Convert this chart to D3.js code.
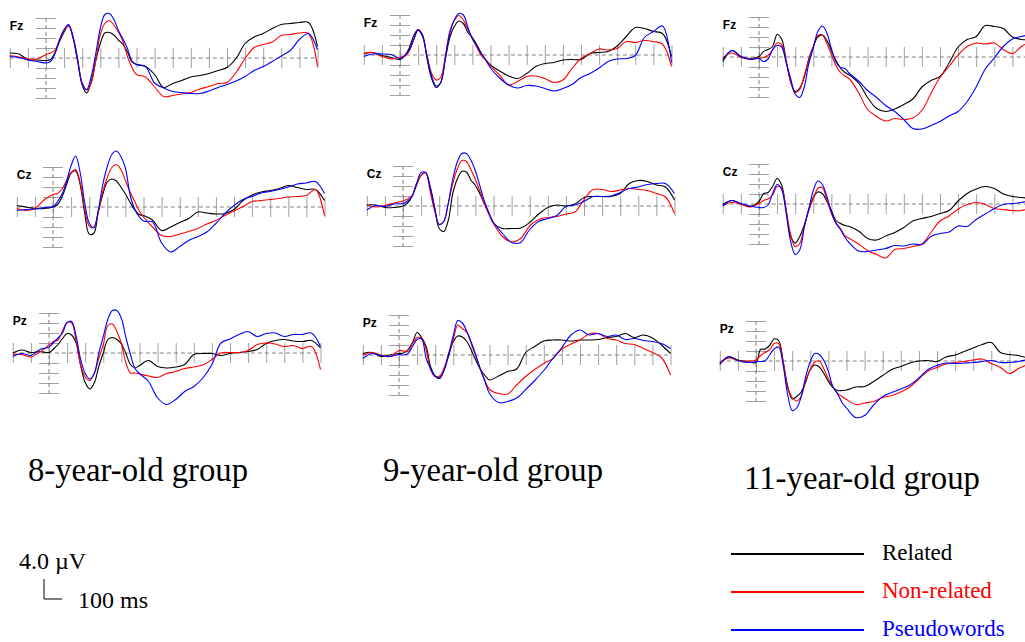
<!DOCTYPE html>
<html>
<head>
<meta charset="utf-8">
<script src="https://cdn.jsdelivr.net/npm/d3@7"></script>
<style>
    body { margin: 0; background: #fff; }
    svg { display: block; }
</style>
</head>
<body>
<svg id="chart" width="1025" height="642"></svg>
<script>
// sample times (ms) shared by every waveform
const times = [-200, -150, -100, -50, 0, 25, 50, 75, 100, 125, 150, 175, 200, 225, 250, 275, 300, 325, 350, 375, 400, 425, 450, 475, 500,
    550, 600, 650, 700, 750, 800, 850, 900, 950, 1000, 1050, 1100, 1150, 1200, 1250, 1300, 1350, 1400, 1450, 1500]

const groups = ["8-year-old group", "9-year-old group", "11-year-old group"]
const sites = ["Fz", "Cz", "Pz"]
const conditions = ["Related", "Non-related", "Pseudowords"]
const colours = ["#000000", "#ff0000", "#0000ff"]

// amplitudes in µV, one value per entry of `times`
const fz8Related = [1.0, 0.8, -0.3, -0.4, -0.5, -0.3, 1.1, 3.3, 5.2, 6.5, 4.1, -0.2, -5.4, -7.0, -4.7, -0.5, 2.9, 5.0, 5.1, 4.6, 3.6, 2.7, 1.2, -0.8, -1.3, -1.7, -3.3, -5.9, -5.1, -4.5, -3.8, -3.5, -3.1, -2.5, -1.9, -0.1, 2.9, 4.2, 4.9, 5.9, 6.7, 6.9, 7.1, 7.1, 2.3]
const fz8NonRelated = [0.5, 0.2, -0.2, -0.2, 0.7, 1.0, 1.6, 3.6, 5.5, 6.4, 3.9, -0.7, -5.0, -6.4, -5.0, -0.5, 4.7, 6.9, 7.5, 6.6, 5.2, 3.3, 0.3, -1.9, -3.3, -3.8, -5.8, -7.7, -7.5, -7.2, -6.9, -6.2, -5.7, -5.1, -4.9, -2.9, -0.1, 2.1, 2.7, 3.2, 4.5, 4.7, 5.0, 4.9, -1.7]
const fz8Pseudo = [0.3, 0.1, -0.4, -0.7, -1.0, -0.7, 0.9, 3.7, 5.7, 6.7, 4.1, -0.7, -5.2, -6.3, -3.7, 0.9, 5.9, 8.7, 8.9, 7.7, 5.5, 3.8, 1.9, -0.6, -1.3, -1.7, -5.0, -6.0, -6.7, -6.9, -7.1, -7.1, -6.6, -5.9, -5.3, -4.6, -3.7, -2.5, -1.7, -0.7, 0.4, 1.5, 3.7, 4.9, 1.7]

const cz8Related = [0.3, 0, -0.3, -0.3, 0, 0.5, 2.0, 4.5, 6.8, 7.2, 4.5, -1.2, -5.4, -5.3, -1.0, 2.5, 5.0, 5.6, 5.2, 4.0, 2.6, 1.0, -0.5, -1.5, -1.7, -2.6, -4.7, -4.0, -3.1, -2.3, -1.0, -1.2, -1.4, -1.3, -0.5, 1.3, 2.4, 3.0, 3.3, 3.7, 4.3, 3.9, 3.5, 3.5, 1.3]
const cz8NonRelated = [-0.3, -0.7, -0.3, 1.4, 2.5, 2.7, 3.6, 5.3, 6.9, 7.5, 4.9, -0.3, -3.8, -4.0, -1.1, 3.1, 5.9, 7.9, 8.5, 7.5, 5.3, 3.1, 1.2, -0.7, -2.0, -4.0, -5.7, -5.9, -5.4, -4.9, -4.3, -3.4, -2.7, -1.7, -0.8, 0.1, 1.1, 1.3, 1.5, 1.7, 2.0, 2.1, 2.3, 3.5, -1.7]
const cz8Pseudo = [-0.7, -0.5, -0.4, -0.1, 0.1, 1.1, 2.6, 5.1, 8.3, 10.2, 6.9, 0.9, -3.2, -4.2, -0.7, 4.5, 8.1, 10.5, 11.2, 10.1, 7.8, 2.6, -0.3, -1.9, -2.8, -3.0, -7.2, -9.0, -7.9, -6.7, -5.9, -5.0, -3.3, -1.3, 0.3, 1.5, 2.1, 2.8, 3.1, 3.5, 4.0, 4.6, 4.8, 5.1, 2.7]

const pz8Related = [0, 0.6, 0.1, 0.3, 0.1, 0.8, 1.7, 2.9, 3.9, 3.6, 2.0, -2.5, -5.9, -7.2, -6.0, -2.7, 0, 2.7, 3.1, 2.7, 1.8, -0.1, -2.3, -3.0, -2.5, -1.5, -2.7, -3.0, -2.8, -2.3, -0.3, -0.1, -0.1, -0.5, -0.1, 0.1, 0.3, 0.7, 1.9, 2.5, 2.7, 2.4, 2.3, 2.5, 1.0]
const pz8NonRelated = [-0.3, -0.3, -0.8, 0.2, 1.6, 2.3, 2.6, 4.5, 6.1, 6.0, 2.4, -2.5, -4.8, -5.5, -4.1, -1.1, 1.7, 5.5, 5.8, 4.3, 1.9, -2.0, -4.0, -4.0, -4.2, -4.6, -4.9, -4.1, -3.7, -3.1, -2.8, -2.4, -1.3, 0, 0.1, 0.1, 0.5, 1.7, 2.0, 1.8, 1.3, 1.5, 0.9, 1.3, -3.3]
const pz8Pseudo = [-0.7, -0.1, -0.5, 0.7, 1.2, 2.1, 3.0, 4.0, 6.1, 6.3, 3.3, -1.3, -4.1, -5.2, -4.1, 0, 3.3, 6.7, 8.5, 8.5, 6.9, 3.1, -0.3, -3.1, -4.1, -5.7, -9.0, -10.3, -9.3, -7.7, -6.7, -5.0, -2.3, 2.0, 2.8, 3.7, 4.3, 3.3, 3.9, 4.0, 3.3, 3.7, 3.7, 4.0, 1.3]

const fz9Related = [0.3, 0.5, -0.1, -0.5, -0.9, -0.2, 1.3, 3.8, 5.1, 4.0, -0.9, -4.7, -6.5, -5.5, -1.0, 3.5, 5.7, 6.8, 6.3, 4.5, 3.5, 2.0, 0.3, -1.0, -2.0, -3.2, -4.2, -4.7, -3.7, -2.3, -1.7, -1.5, -1.0, -0.9, -0.9, 0.3, 0.5, 0.7, 1.8, 3.7, 5.5, 5.3, 4.7, 4.3, -0.3]
const fz9NonRelated = [0.3, 0.5, -0.3, -0.8, -0.4, -0.3, 0.7, 2.9, 5.0, 3.7, -0.2, -3.7, -5.0, -4.5, -0.3, 4.7, 6.9, 7.9, 7.0, 5.1, 3.3, 1.5, -0.2, -1.0, -2.2, -4.0, -6.0, -5.3, -4.3, -4.2, -4.7, -5.5, -5.0, -2.7, -0.7, 0.3, 1.2, 1.0, 1.3, 2.7, 2.5, 2.9, 2.7, 2.2, -2.3]
const fz9Pseudo = [-0.3, 0.2, 0.2, 0.1, -0.7, -0.1, 0.9, 3.1, 4.9, 3.7, -0.5, -4.3, -6.2, -5.5, -0.7, 4.3, 7.0, 8.3, 8.0, 5.5, 3.2, 1.8, 0.2, -1.1, -2.6, -4.6, -6.0, -6.6, -6.1, -6.2, -6.7, -7.2, -6.7, -5.9, -4.5, -3.7, -2.6, -1.3, -0.8, -0.7, -0.1, 3.5, 4.7, 5.8, -1.5]

const cz9Related = [0.2, 0.2, -0.3, -0.3, 0, 0.6, 1.9, 4.5, 6.1, 6.7, 3.9, -0.3, -4.5, -5.1, -2.9, 2.5, 5.4, 6.9, 6.8, 5.2, 4.1, 2.4, 0.4, -1.5, -3.5, -4.5, -4.5, -4.4, -3.3, -1.6, -0.3, 0.2, 0, 0.4, 1.7, 1.9, 1.9, 1.9, 2.5, 4.5, 5.1, 4.9, 4.2, 3.8, 1.2]
const cz9NonRelated = [0.2, -0.2, 0.1, 0.6, 1.0, 1.4, 2.1, 4.1, 6.1, 6.7, 2.9, -1.0, -3.7, -3.1, 0.5, 4.5, 7.4, 9.1, 8.9, 7.3, 5.3, 2.9, 0.4, -1.7, -3.5, -6.1, -7.2, -6.5, -4.0, -2.7, -2.3, -2.1, -1.6, -1.2, 1.3, 3.3, 3.3, 2.9, 3.2, 3.5, 3.3, 3.1, 2.5, 1.8, -1.5]
const cz9Pseudo = [-0.8, 0.1, -0.1, 0.4, 0.5, 1.0, 1.9, 4.4, 6.7, 6.7, 3.7, -0.5, -3.7, -3.1, 0.5, 5.4, 8.8, 10.5, 10.5, 9.2, 7.0, 4.0, 0.9, -1.4, -3.3, -5.5, -7.3, -7.3, -4.7, -3.1, -2.5, -1.9, -0.1, 0.2, 0.9, 1.9, 1.9, 2.0, 2.7, 3.5, 3.8, 4.3, 4.5, 4.5, 2.5]

const pz9Related = [0.3, 0.5, -0.3, 0, 0.3, 0.4, 1.1, 2.5, 4.5, 3.5, 1.7, -2.4, -4.2, -4.7, -2.8, -0.1, 2.7, 3.8, 3.6, 2.7, 0.9, -1.1, -2.9, -4.1, -5.0, -4.2, -3.3, -2.8, 0.5, 1.7, 2.8, 3.0, 3.0, 2.8, 3.0, 3.0, 3.1, 3.5, 3.7, 4.3, 3.5, 4.0, 3.4, 2.0, 0.3]
const pz9NonRelated = [0, 0.5, 0, -0.3, 0.9, 0.8, 0.7, 2.3, 3.5, 3.3, 1.0, -3.0, -4.3, -4.2, -2.5, 0.3, 3.2, 6.0, 5.3, 4.5, 2.2, -0.3, -2.8, -5.1, -6.9, -7.7, -7.8, -6.0, -4.3, -2.9, -1.7, -0.7, 1.2, 2.2, 3.0, 4.2, 4.3, 3.3, 3.0, 2.3, 2.1, 1.3, 0.5, -0.5, -4.0]
const pz9Pseudo = [-0.7, 0.3, -0.1, -0.3, 0.1, 0, 0.3, 1.7, 3.1, 3.2, -0.7, -2.7, -4.3, -4.5, -3.0, 0.3, 3.9, 6.9, 6.4, 4.7, 2.5, -0.1, -2.9, -5.3, -7.7, -9.5, -9.3, -8.6, -6.9, -5.1, -3.1, -0.7, 1.5, 4.0, 5.0, 4.0, 4.3, 3.7, 4.0, 3.1, 3.3, 2.9, 2.7, 2.3, 1.3]

const fz11Related = [-0.9, 1.3, 0.1, -0.3, 0.1, 1.1, 1.5, 2.1, 4.5, 3.6, -0.7, -5.0, -6.9, -6.2, -4.0, -0.4, 2.1, 4.0, 4.4, 3.3, 1.3, -0.7, -2.2, -3.1, -3.6, -5.2, -8.1, -10.3, -10.9, -10.4, -9.5, -8.4, -6.0, -4.7, -3.9, -1.2, 2.0, 3.5, 4.1, 6.3, 6.1, 5.7, 4.0, 3.5, 3.5]
const fz11NonRelated = [-0.2, 0.8, -0.1, -0.4, -0.2, -0.1, 0.3, 1.4, 2.8, 2.5, -0.9, -5.0, -7.1, -6.5, -3.7, -0.6, 2.1, 4.3, 4.4, 2.7, 0.5, -1.7, -3.1, -3.8, -4.4, -7.1, -10.5, -11.9, -12.8, -12.3, -12.5, -12.2, -10.7, -7.3, -4.1, -1.9, 0.4, 2.1, 2.8, 2.6, 2.8, 1.5, 0.7, 2.1, 3.1]
const fz11Pseudo = [-0.5, 1.3, 0.1, -0.5, -0.3, -0.9, -0.4, 1.5, 2.3, 2.0, -1.1, -4.3, -7.4, -8.1, -6.0, -1.3, 1.8, 5.1, 6.2, 4.8, 1.6, -1.0, -2.1, -2.3, -3.3, -4.8, -6.7, -8.1, -9.7, -10.9, -12.5, -14.3, -14.4, -13.7, -12.9, -11.8, -10.9, -8.9, -6.0, -2.4, -0.2, 2.1, 3.6, 4.1, 4.5]

const cz11Related = [-0.1, 0.7, 0, -0.5, 0.5, 2.1, 2.3, 3.5, 5.1, 3.8, -1.2, -6.5, -7.8, -6.5, -4.2, -1.1, 1.3, 2.4, 2.1, 0.5, -1.3, -3.3, -3.9, -4.3, -4.5, -5.4, -6.9, -7.2, -6.4, -5.7, -4.7, -3.4, -2.9, -2.5, -1.9, -1.3, 0.6, 2.1, 3.0, 3.5, 3.1, 2.0, 1.5, 1.3, 1.1]
const cz11NonRelated = [-0.3, 0.3, 0, -0.6, 0.1, 0.7, 1.0, 1.8, 3.5, 3.2, -1.2, -6.1, -8.5, -7.9, -4.5, -1.3, 1.1, 3.1, 3.3, 0.8, -1.9, -3.7, -4.9, -6.4, -6.9, -8.0, -9.3, -10.1, -10.8, -9.1, -8.9, -8.5, -8.0, -5.7, -3.4, -2.4, -1.0, -0.1, 0.3, -0.1, -0.9, -1.1, -1.3, -1.3, -0.7]
const cz11Pseudo = [-0.4, 0.7, 0.1, -0.4, -0.7, -0.7, -0.2, 2.1, 3.9, 2.9, -1.9, -7.5, -10.1, -9.2, -4.7, -1.0, 2.7, 4.6, 3.9, 1.5, -1.6, -3.9, -5.1, -6.7, -7.8, -9.4, -9.5, -9.2, -8.9, -8.3, -8.4, -8.0, -8.1, -6.5, -5.9, -5.6, -4.4, -4.5, -3.1, -2.0, -0.9, -0.1, 0.1, 0.3, 0.8]

const pz11Related = [-0.7, 0.8, 0.2, -0.1, -0.3, 2.3, 2.4, 3.1, 4.4, 4.1, -0.1, -5.0, -7.6, -7.1, -6.2, -4.2, -1.7, -0.8, -1.2, -2.5, -4.1, -5.3, -5.9, -5.9, -5.8, -5.2, -5.1, -4.1, -2.9, -1.7, -1.1, -0.4, 0, 0.1, -0.1, 0.8, 1.2, 1.9, 2.6, 3.3, 3.7, 1.7, 1.3, 1.1, 0.6]
const pz11NonRelated = [-0.4, 0.6, 0.1, 0, 0.2, 1.1, 1.7, 2.2, 3.5, 3.5, -0.1, -5.4, -7.3, -8.0, -7.0, -3.9, -1.7, -0.2, 0, -1.6, -3.6, -5.1, -6.5, -7.1, -7.7, -8.7, -8.4, -8.1, -7.3, -6.9, -6.2, -5.2, -3.6, -2.0, -1.3, -0.6, -0.3, -0.1, 0.2, 0.4, -0.5, -1.3, -2.5, -1.5, -0.7]
const pz11Pseudo = [-0.5, 0.9, 0.1, -0.3, -0.1, -0.1, 0, 1.2, 2.4, 2.8, -0.9, -6.7, -9.9, -9.4, -7.1, -3.1, -0.1, 1.5, 1.3, 0.1, -2.1, -5.2, -6.5, -8.3, -9.4, -11.3, -10.9, -8.8, -7.1, -6.3, -5.6, -4.8, -3.4, -1.7, -0.9, -0.4, -0.5, -0.4, -0.3, -0.1, 0.1, -0.3, -0.3, -0.1, 0.3]

const waves = [
    [[fz8Related, fz8NonRelated, fz8Pseudo], [cz8Related, cz8NonRelated, cz8Pseudo], [pz8Related, pz8NonRelated, pz8Pseudo]],
    [[fz9Related, fz9NonRelated, fz9Pseudo], [cz9Related, cz9NonRelated, cz9Pseudo], [pz9Related, pz9NonRelated, pz9Pseudo]],
    [[fz11Related, fz11NonRelated, fz11Pseudo], [cz11Related, cz11NonRelated, cz11Pseudo], [pz11Related, pz11NonRelated, pz11Pseudo]],
]

// where time 0 / 0 µV sits for each panel [group][site]
const origins = [
    [[46, 58], [53, 207], [49, 353]],
    [[400, 55], [403, 206], [399, 355]],
    [[759, 57], [759, 204], [756, 361]],
]
const msPx = 0.181
const uvPx = 5

const svg = d3.select("#chart")
const serif = "'Liberation Serif', 'Times New Roman', serif"
const sans = "'Liberation Sans', Arial, sans-serif"

function renderPanel(g, gi, si) {
    const [ox, oy] = origins[gi][si]
    const x = d3.scaleLinear().domain([-200, 1500]).range([ox - 200 * msPx, ox + 1500 * msPx])
    const y = d3.scaleLinear().domain([-8, 8]).range([oy + 8 * uvPx, oy - 8 * uvPx])

    const tickAxis = g.append("g")
        .attr("transform", `translate(0, ${y(0) - 10})`)
        .call(d3.axisBottom(x).tickValues(d3.range(-200, 1501, 100)).tickSize(20).tickFormat(""))
    const ampAxis = g.append("g")
        .attr("transform", `translate(${x(0) + 10}, 0)`)
        .call(d3.axisLeft(y).tickValues([-8, -6, -4, -2, 2, 4, 6, 8]).tickSize(20).tickFormat(""))
    for (const a of [tickAxis, ampAxis]) {
        a.select(".domain").remove()
        a.selectAll("line").attr("stroke", "#a0a0a0").attr("stroke-width", 1)
    }

    g.append("line")
        .attr("x1", x(-200)).attr("x2", x(1500))
        .attr("y1", y(0)).attr("y2", y(0))
        .attr("stroke", "#808080").attr("stroke-dasharray", "4,3")
    g.append("line")
        .attr("x1", x(0)).attr("x2", x(0))
        .attr("y1", y(8)).attr("y2", y(-8))
        .attr("stroke", "#808080").attr("stroke-dasharray", "4,3")

    g.append("text")
        .attr("x", x(-200)).attr("y", y(0) - 28)
        .attr("font-family", sans).attr("font-weight", "bold").attr("font-size", 12)
        .text(sites[si])

    const line = d3.line()
        .x((d, i) => x(times[i]))
        .y((d) => y(d))
        .curve(d3.curveCatmullRom.alpha(0.5))

    g.selectAll("path.wave")
        .data(waves[gi][si])
        .join("path")
        .attr("class", "wave")
        .attr("fill", "none")
        .attr("stroke", (d, i) => colours[i])
        .attr("stroke-width", 1.1)
        .attr("d", line)
}

groups.forEach((name, gi) => {
    sites.forEach((s, si) => renderPanel(svg.append("g"), gi, si))
})

// group captions, set narrow like the original
const captionPos = [[28, 481, 220], [383, 481, 220], [744, 489, 236]]
svg.selectAll("text.group")
    .data(groups)
    .join("text")
    .attr("class", "group")
    .attr("x", (d, i) => captionPos[i][0])
    .attr("y", (d, i) => captionPos[i][1])
    .attr("textLength", (d, i) => captionPos[i][2])
    .attr("lengthAdjust", "spacingAndGlyphs")
    .attr("font-family", serif).attr("font-size", 34)
    .text((d) => d)

// calibration mark
const cal = svg.append("g")
cal.append("text").attr("x", 19).attr("y", 569)
    .attr("font-family", serif).attr("font-size", 24).text("4.0 µV")
cal.append("path")
    .attr("d", `M44,${599 - 4 * uvPx}V599H${44 + 100 * msPx}`)
    .attr("fill", "none").attr("stroke", "#000").attr("stroke-width", 1)
cal.append("text").attr("x", 78).attr("y", 608)
    .attr("font-family", serif).attr("font-size", 24).text("100 ms")

// legend
const legend = svg.append("g")
const legendY = [554, 592, 630]
legend.selectAll("line")
    .data(conditions)
    .join("line")
    .attr("x1", 731).attr("x2", 864)
    .attr("y1", (d, i) => legendY[i]).attr("y2", (d, i) => legendY[i])
    .attr("stroke", (d, i) => colours[i]).attr("stroke-width", 2)
legend.selectAll("text")
    .data(conditions)
    .join("text")
    .attr("x", 882)
    .attr("y", (d, i) => legendY[i] + 6)
    .attr("font-family", serif).attr("font-size", 23)
    .attr("fill", (d, i) => colours[i])
    .text((d) => d)
</script>
</body>
</html>
